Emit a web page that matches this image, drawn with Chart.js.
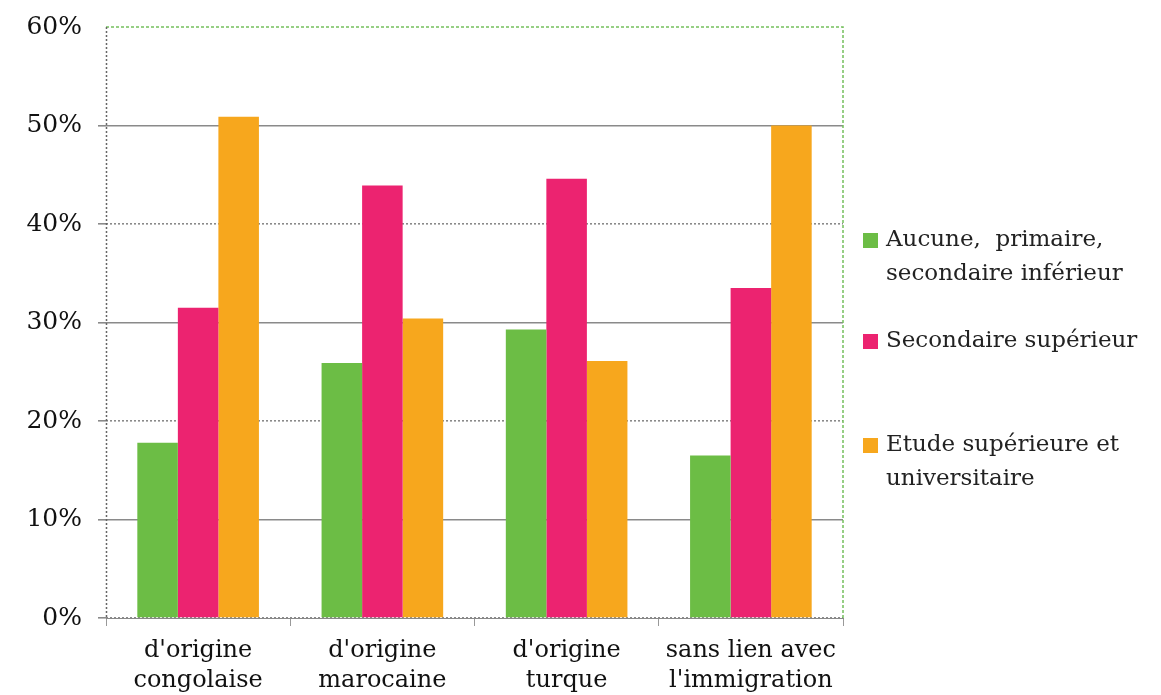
<!DOCTYPE html>
<html>
<head>
<meta charset="utf-8">
<script src="https://cdn.jsdelivr.net/npm/chart.js@4/dist/chart.umd.min.js"></script>
<style>
  html, body { margin: 0; padding: 0; background: #fff; }
  #wrap { width: 1161px; height: 695px; }
</style>
</head>
<body>
<div id="wrap"><canvas id="niveau"></canvas></div>
<script>
const categories = [
  ["d'origine", "congolaise"],
  ["d'origine", "marocaine"],
  ["d'origine", "turque"],
  ["sans lien avec", "l'immigration"]
];
const seriesNames = [
  ["Aucune,  primaire,", "secondaire inférieur"],
  ["Secondaire supérieur"],
  ["Etude supérieure et", "universitaire"]
];
const aucunePrimaire = [17.8, 25.9, 29.3, 16.5];
const secondaireSup = [31.5, 43.9, 44.6, 33.5];
const etudeSup = [50.9, 30.4, 26.1, 50.0];
const yTicks = [0, 10, 20, 30, 40, 50, 60];

const colors = ['#6cbd45', '#ec2370', '#f7a71d'];
const serif = "'DejaVu Serif', 'Liberation Serif', serif";

// legend on the right, drawn by hand so the wrapped labels sit like the original
const sideLegend = {
  id: 'sideLegend',
  afterDraw(chart) {
    const ctx = chart.ctx;
    const area = chart.chartArea;
    const x = area.right + 20;
    const rows = [240, 341, 445];
    ctx.save();
    ctx.font = '23px ' + serif;
    ctx.textBaseline = 'middle';
    seriesNames.forEach((lines, i) => {
      const y = rows[i];
      ctx.fillStyle = colors[i];
      ctx.fillRect(x, y - 7, 15, 15);
      ctx.fillStyle = '#222';
      lines.forEach((t, j) => ctx.fillText(t, x + 23, y + j * 34));
    });
    // dotted frame: green on top and right, grey on the left axis
    ctx.lineWidth = 1.5;
    ctx.setLineDash([3, 2]);
    ctx.strokeStyle = '#74c05c';
    ctx.beginPath();
    ctx.moveTo(area.left, area.top);
    ctx.lineTo(area.right, area.top);
    ctx.lineTo(area.right, area.bottom);
    ctx.stroke();
    ctx.setLineDash([2, 2]);
    ctx.strokeStyle = '#666';
    ctx.beginPath();
    ctx.moveTo(area.left + 0.5, area.top);
    ctx.lineTo(area.left + 0.5, area.bottom);
    ctx.stroke();
    ctx.restore();
  }
};

new Chart(document.getElementById('niveau'), {
  type: 'bar',
  data: {
    labels: categories,
    datasets: [
      { label: seriesNames[0].join(' '), data: aucunePrimaire, backgroundColor: colors[0] },
      { label: seriesNames[1].join(' '), data: secondaireSup, backgroundColor: colors[1] },
      { label: seriesNames[2].join(' '), data: etudeSup, backgroundColor: colors[2] }
    ]
  },
  options: {
    responsive: true,
    maintainAspectRatio: false,
    animation: false,
    layout: { padding: { top: 27, right: 318, left: 0, bottom: 0 } },
    datasets: { bar: { categoryPercentage: 0.66, barPercentage: 1 } },
    scales: {
      x: {
        grid: { drawOnChartArea: false, color: '#999', tickLength: 8, offset: true },
        border: { color: '#888', dash: [2, 2] },
        ticks: { color: '#111', font: { family: serif, size: 24, lineHeight: 1.25 }, padding: 10, maxRotation: 0 },
        afterFit(s) { s.height = 77; }
      },
      y: {
        min: 0,
        max: 60,
        afterBuildTicks(s) { s.ticks = yTicks.map(v => ({ value: v })); },
        grid: {
          color: c => c.tick && c.tick.value === 60 ? 'rgba(0,0,0,0)' : '#8a8a8a',
          lineWidth: 1.6,
          tickLength: 8
        },
        border: {
          display: false,
          dash: c => c.tick && [50, 30, 10].includes(c.tick.value) ? [] : [2, 2]
        },
        ticks: {
          color: '#111',
          font: { family: serif, size: 25 },
          padding: 16,
          callback: v => v + '%'
        },
        afterFit(s) {
          s.width = 106;
          s.paddingTop = 0;
          s.paddingBottom = 0;
        }
      }
    },
    plugins: {
      legend: { display: false },
      tooltip: { enabled: false }
    }
  },
  plugins: [sideLegend]
});
</script>
</body>
</html>
